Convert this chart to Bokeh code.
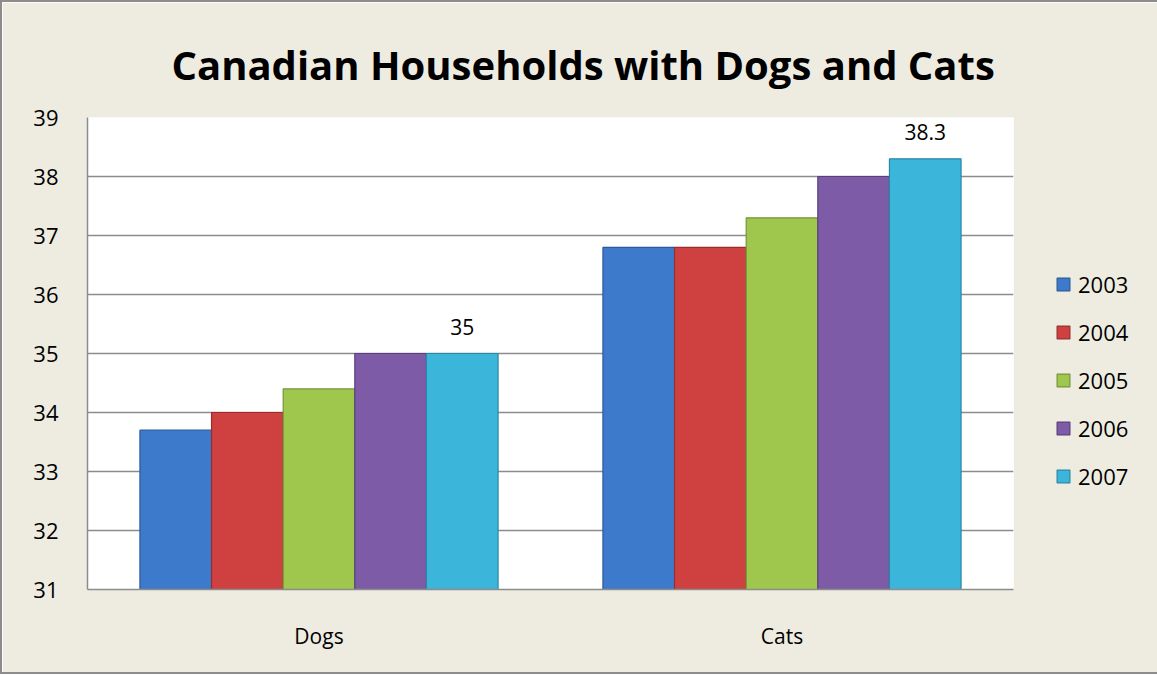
from bokeh.plotting import figure
from bokeh.models import ColumnDataSource, FactorRange, Range1d, FixedTicker, Legend, LegendItem
from bokeh.transform import dodge
from bokeh.core.properties import value
from bokeh.embed import file_html
from bokeh.resources import INLINE

categories = ["Dogs", "Cats"]
years = ["2003", "2004", "2005", "2006", "2007"]
v2003 = [33.7, 36.8]
v2004 = [34.0, 36.8]
v2005 = [34.4, 37.3]
v2006 = [35.0, 38.0]
v2007 = [35.0, 38.3]
y_ticks = [31, 32, 33, 34, 35, 36, 37, 38, 39]
title_text = "Canadian Households with Dogs and Cats"

colors = ["#3d7acb", "#cf4140", "#9fc64d", "#7e5ba7", "#3bb6da"]
edges = ["#2a5a9c", "#9a2e2c", "#76943a", "#5a3f7c", "#2a88a6"]

src = ColumnDataSource(dict(cat=categories, v2003=v2003, v2004=v2004, v2005=v2005, v2006=v2006, v2007=v2007,
                            lab=[f"{v:g}" for v in v2007]))

FONT = "Open Sans"
BG = "#eeece1"
GRID = "#8c8c8c"

p = figure(x_range=FactorRange(*categories), y_range=Range1d(31, 39),
           width=1151, height=670, frame_width=926, frame_height=472,
           min_border_left=85, min_border_top=115, min_border_bottom=83, min_border_right=140,
           output_backend="svg", toolbar_location=None, tools="")
p.background_fill_color = "white"
p.border_fill_color = BG
p.outline_line_color = None
p.styles = {"border": "2px solid #8c8c8c"}

p.title.text = title_text
p.title.text_font = FONT
p.title.text_font_style = "bold"
p.title.text_font_size = "40px"
p.title.align = "left"
p.title.offset = 84
p.title.vertical_align = "top"
p.title.standoff = 48
p.title.text_color = "black"

w = 0.1547
offsets = [-2 * w, -w, 0, w, 2 * w]
fields = ["v2003", "v2004", "v2005", "v2006", "v2007"]
renderers = []
for f, off, c, e in zip(fields, offsets, colors, edges):
    r = p.vbar(x=dodge("cat", off, range=p.x_range), top=f, bottom=31, width=w, source=src,
               fill_color=c, line_color=e, line_width=1.2)
    renderers.append(r)

p.text(x=dodge("cat", offsets[-1], range=p.x_range), y="v2007", text="lab", source=src,
       text_font=value(FONT), text_font_size="21px", text_align="center", text_baseline="middle",
       y_offset=-27, text_color="black")

legend = Legend(items=[LegendItem(label=y, renderers=[r]) for y, r in zip(years, renderers)],
                location=(42, 98), padding=0, margin=0, spacing=18,
                glyph_width=16, glyph_height=16, label_height=20, label_standoff=7,
                label_text_font=FONT, label_text_font_size="22px", label_text_color="black",
                background_fill_alpha=0, border_line_color=None)
p.add_layout(legend, "right")

p.yaxis.ticker = FixedTicker(ticks=y_ticks)
p.yaxis.major_label_text_font = FONT
p.yaxis.major_label_text_font_size = "22px"
p.yaxis.major_label_text_color = "black"
p.yaxis.major_tick_line_color = None
p.yaxis.minor_tick_line_color = None
p.yaxis.axis_line_color = GRID
p.yaxis.axis_line_width = 1.5
p.yaxis.major_label_standoff = 23

p.xaxis.major_label_text_font = FONT
p.xaxis.major_label_text_font_size = "21px"
p.xaxis.major_label_text_color = "black"
p.xaxis.major_tick_line_color = None
p.xaxis.axis_line_color = GRID
p.xaxis.axis_line_width = 1.5
p.xaxis.major_label_standoff = 26

p.xgrid.grid_line_color = None
p.ygrid.grid_line_color = GRID
p.ygrid.grid_line_width = 1.5
p.ygrid.ticker = FixedTicker(ticks=y_ticks)

open("out.html", "w").write(file_html(p, INLINE))
